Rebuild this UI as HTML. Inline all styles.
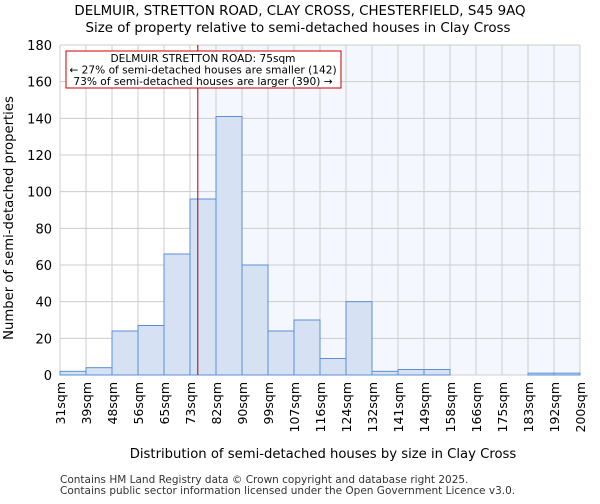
<!DOCTYPE html>
<html><head><meta charset="utf-8"><style>
body{margin:0;background:#fff;font-family:"DejaVu Sans","Liberation Sans",sans-serif}
</style></head><body>
<svg id="c" width="600" height="500" xmlns="http://www.w3.org/2000/svg" font-family="DejaVu Sans, Liberation Sans, sans-serif">
<text x="300" y="15" text-anchor="middle" font-size="13.4">DELMUIR, STRETTON ROAD, CLAY CROSS, CHESTERFIELD, S45 9AQ</text>
<text x="298" y="32" text-anchor="middle" font-size="13.4">Size of property relative to semi-detached houses in Clay Cross</text>
<g id="plot"></g>
<text x="323" y="458" text-anchor="middle" font-size="13.2">Distribution of semi-detached houses by size in Clay Cross</text>
<text transform="translate(13,218) rotate(-90)" text-anchor="middle" font-size="13.2">Number of semi-detached properties</text>
<text x="60" y="483" font-size="10.5" fill="#333">Contains HM Land Registry data © Crown copyright and database right 2025.</text>
<text x="60" y="494" font-size="10.5" fill="#333">Contains public sector information licensed under the Open Government Licence v3.0.</text>
</svg>
<script>
const categories=["31sqm","39sqm","48sqm","56sqm","65sqm","73sqm","82sqm","90sqm","99sqm","107sqm","116sqm","124sqm","132sqm","141sqm","149sqm","158sqm","166sqm","175sqm","183sqm","192sqm","200sqm"];
const counts=[2,4,24,27,66,96,141,60,24,30,9,40,2,3,3,0,0,0,1,1];
const yTicks=[0,20,40,60,80,100,120,140,160,180];
const markerBin=5.3;
const NS="http://www.w3.org/2000/svg";
const g=document.getElementById('plot');
const L=60,R=580,T=45,B=375,yMax=180;
const n=counts.length,bw=(R-L)/n;
const X=i=>L+i*bw, Y=v=>B-(v/yMax)*(B-T);
function mk(t,a,p){const e=document.createElementNS(NS,t);for(const k in a)e.setAttribute(k,a[k]);(p||g).appendChild(e);return e;}
const mx=X(markerBin);
let e=mk('rect',{x:mx,y:T,width:R-mx,height:B-T,fill:'#f4f7fd'});


categories.forEach((c,i)=>{let l=mk('line',{x1:X(i),x2:X(i),y1:T,y2:B,stroke:'#ccc','stroke-width':1});

});
yTicks.forEach(v=>{let l=mk('line',{x1:L,x2:R,y1:Y(v),y2:Y(v),stroke:'#ccc','stroke-width':1});


let t=mk('text',{x:L-8,y:Y(v)+5,'text-anchor':'end','font-size':13});t.textContent=v;

});
counts.forEach((v,i)=>{let r=mk('rect',{x:X(i),y:Y(v),width:bw,height:B-Y(v),fill:'#d6e2f4',stroke:'#5b8fd6','stroke-width':1});

});
categories.forEach((c,i)=>{let t=mk('text',{transform:`translate(${X(i)+5},382) rotate(-90)`,'text-anchor':'end','font-size':12.5});t.textContent=c;

});
let ln=mk('line',{x1:mx,x2:mx,y1:T,y2:B,stroke:'#a00','stroke-width':1});


let bx=mk('rect',{x:66,y:51,width:275,height:37,fill:'#fff',stroke:'#c00','stroke-width':1});


["DELMUIR STRETTON ROAD: 75sqm","← 27% of semi-detached houses are smaller (142)","73% of semi-detached houses are larger (390) →"].forEach((s,k)=>{let t=mk('text',{x:203,y:62+k*11.5,'text-anchor':'middle','font-size':10.6});t.textContent=s;

});
</script>
</body></html>
